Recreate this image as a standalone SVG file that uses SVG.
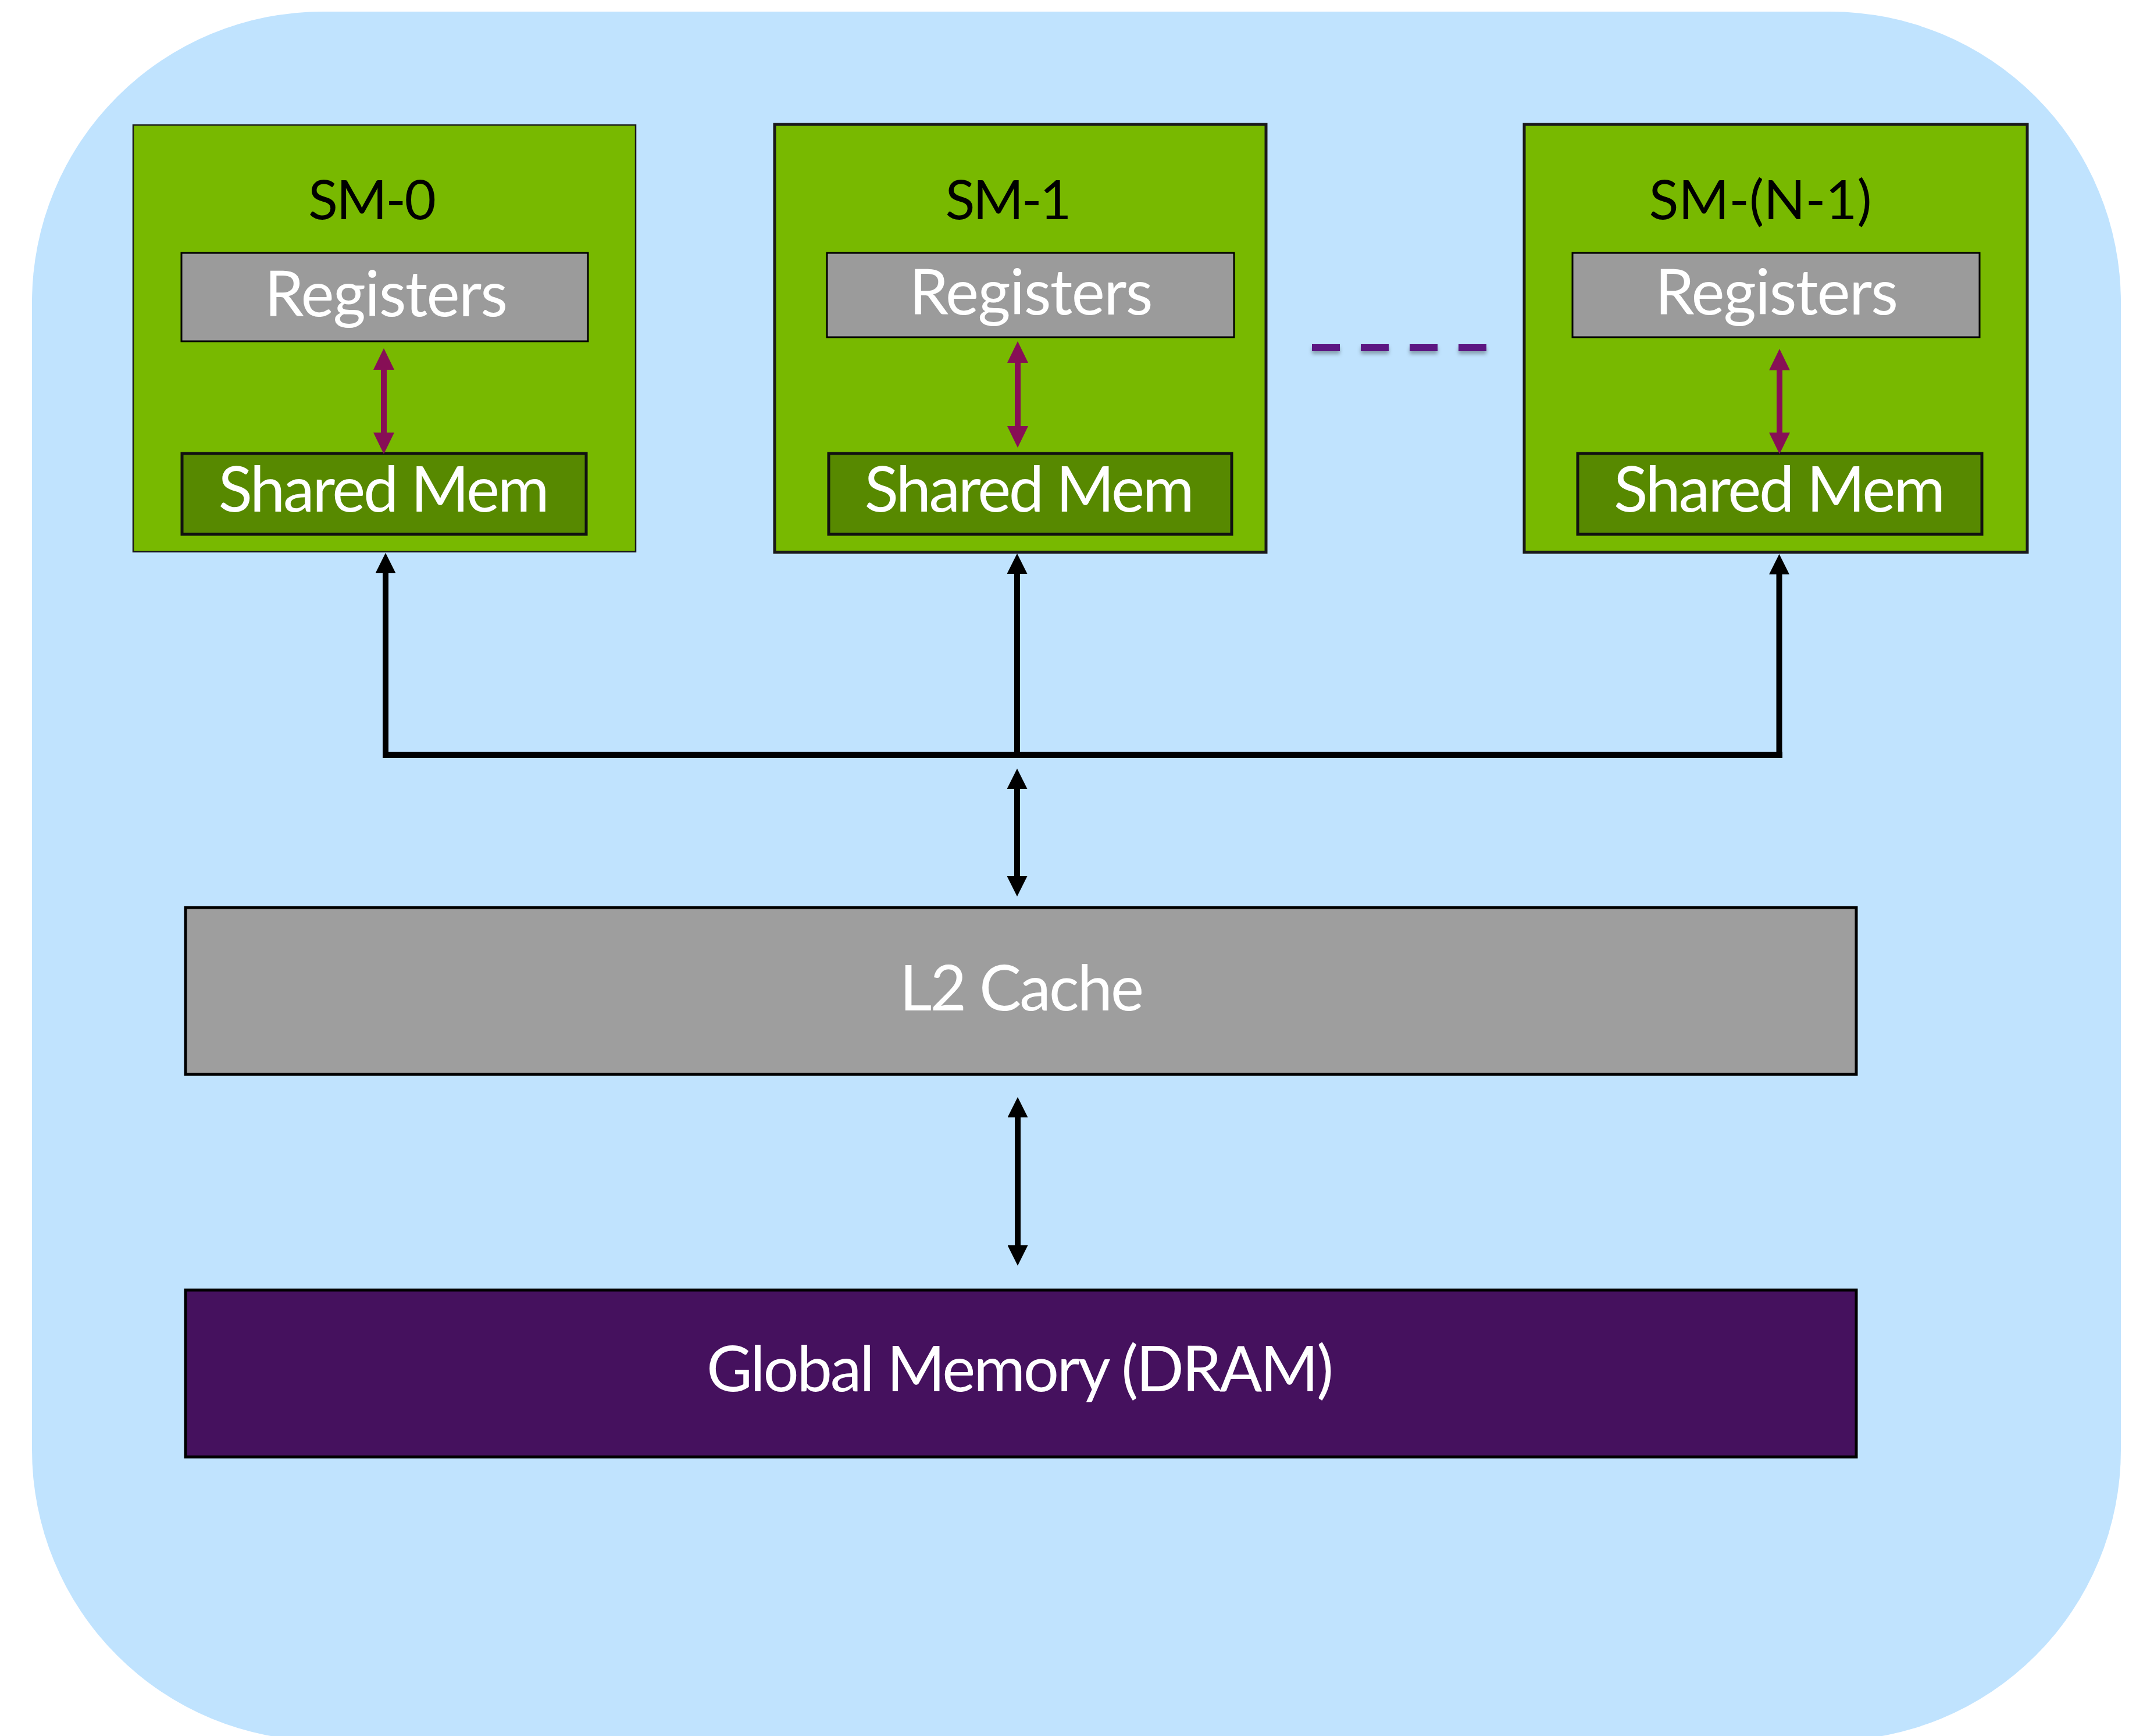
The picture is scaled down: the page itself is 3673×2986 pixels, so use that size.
<svg xmlns="http://www.w3.org/2000/svg" width="3673" height="2986" viewBox="0 0 3673 2986">
<defs>
<style>
.sm{fill:#78B900;stroke:#1a1a1a}
.reg{fill:#9B9B9B;stroke:#000;stroke-width:3}
.shm{fill:#578900;stroke:#111;stroke-width:5}
.big{fill:#9E9E9E;stroke:#000;stroke-width:5}
.glob{fill:#45115E;stroke:#000;stroke-width:5}
.t{font-family:Lato,"Open Sans","Liberation Sans",sans-serif;text-anchor:middle}
.w{fill:#fff;font-size:108px}
.title{fill:#000;font-size:94px}
.pa{stroke:#870F56;stroke-width:10;fill:none;marker-start:url(#hp);marker-end:url(#hp)}
.ba{stroke:#000;stroke-width:10;fill:none}
.dash{fill:#5B1882}
</style>
<marker id="hp" markerUnits="userSpaceOnUse" markerWidth="37" markerHeight="36" refX="1" refY="18" orient="auto-start-reverse" viewBox="0 0 37 36">
<path d="M0,0 L37,18 L0,36 Z" fill="#870F56"/>
</marker>
<marker id="hb" markerUnits="userSpaceOnUse" markerWidth="35" markerHeight="35" refX="1" refY="17.5" orient="auto-start-reverse" viewBox="0 0 35 35">
<path d="M0,0 L35,17.5 L0,35 Z" fill="#000"/>
</marker>
<filter id="sh" filterUnits="userSpaceOnUse" x="2230" y="570" width="360" height="70">
<feDropShadow dx="0" dy="5" stdDeviation="3" flood-color="#000" flood-opacity="0.3"/>
</filter>
</defs>

<rect id="background" x="55" y="20" width="3592" height="2974" rx="500" ry="500" fill="#C0E3FE"/>

<g id="sm0">
<rect class="sm" x="229" y="215" width="864" height="734" stroke-width="2.5"/>
<text class="t title" x="640" y="377" textLength="220">SM-0</text>
<g id="sm0-registers">
<rect class="reg" x="312" y="435" width="699" height="152"/>
<text class="t w" x="664" y="544" textLength="418">Registers</text>
</g>
<g id="sm0-shared">
<rect class="shm" x="313" y="780" width="695" height="139"/>
<text class="t w" x="660" y="880" textLength="569">Shared Mem</text>
</g>
</g>

<g id="sm1">
<rect class="sm" x="1332" y="214" width="845" height="736" stroke-width="5"/>
<text class="t title" x="1734" y="377" textLength="217">SM-1</text>
<g id="sm1-registers">
<rect class="reg" x="1422" y="435" width="700" height="145"/>
<text class="t w" x="1773" y="541" textLength="419">Registers</text>
</g>
<g id="sm1-shared">
<rect class="shm" x="1425" y="780" width="693" height="139"/>
<text class="t w" x="1770" y="880" textLength="567">Shared Mem</text>
</g>
</g>

<g id="smn">
<rect class="sm" x="2621" y="214" width="865" height="736" stroke-width="5"/>
<text class="t title" x="3027" y="377" textLength="383">SM-(N-1)</text>
<g id="smn-registers">
<rect class="reg" x="2704" y="435" width="700" height="145"/>
<text class="t w" x="3055" y="541" textLength="418">Registers</text>
</g>
<g id="smn-shared">
<rect class="shm" x="2713" y="780" width="695" height="139"/>
<text class="t w" x="3060" y="880" textLength="570">Shared Mem</text>
</g>
</g>

<g id="ellipsis" filter="url(#sh)">
<rect class="dash" x="2256" y="592" width="48" height="12"/>
<rect class="dash" x="2340" y="592" width="48" height="12"/>
<rect class="dash" x="2424" y="592" width="48" height="12"/>
<rect class="dash" x="2508" y="592" width="48" height="12"/>
</g>

<g id="l2">
<rect class="big" x="319" y="1561" width="2873" height="287"/>
<text class="t w" x="1757" y="1738" textLength="420">L2 Cache</text>
</g>

<g id="global">
<rect class="glob" x="319" y="2219" width="2873" height="287"/>
<text class="t w" x="1754" y="2393" textLength="1078">Global Memory (DRAM)</text>
</g>

<g id="connectors">
<path class="pa" d="M660,635 V745"/>
<path class="pa" d="M1750,623 V734"/>
<path class="pa" d="M3060,636 V745"/>
<line x1="658" y1="1298.5" x2="3065" y2="1298.5" stroke="#000" stroke-width="11"/>
<path class="ba" d="M663,1304 V985" marker-end="url(#hb)"/>
<path class="ba" d="M1749,1304 V986" marker-end="url(#hb)"/>
<path class="ba" d="M3059.5,1304 V987" marker-end="url(#hb)"/>
<path class="ba" d="M1749,1356 V1508" marker-start="url(#hb)" marker-end="url(#hb)"/>
<path class="ba" d="M1750,1921 V2143" marker-start="url(#hb)" marker-end="url(#hb)"/>
</g>
</svg>
